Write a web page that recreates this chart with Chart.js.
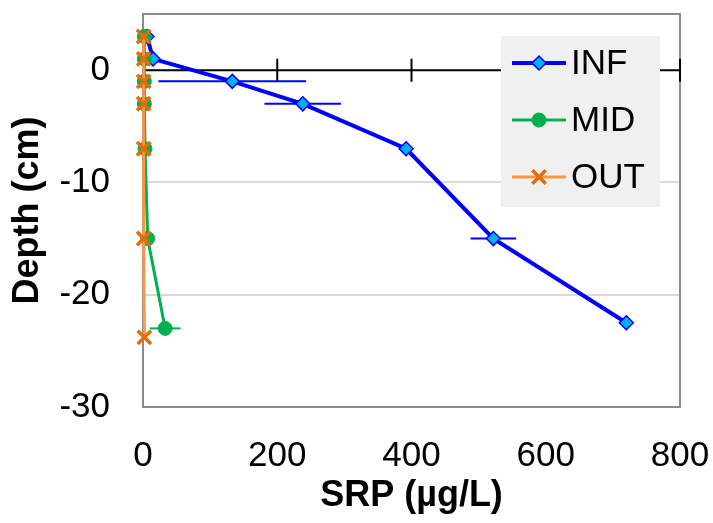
<!DOCTYPE html>
<html>
<head>
<meta charset="utf-8">
<script src="https://cdn.jsdelivr.net/npm/chart.js@4.4.0/dist/chart.umd.min.js"></script>
<style>
html, body { margin: 0; padding: 0; background: #fff; }
#wrap { width: 713px; height: 523px; }
</style>
</head>
<body>
<div id="wrap"><canvas id="chart"></canvas></div>
<script>
// depth (cm) vs SRP (ug/L), one profile per station
var infDepth = [3, 1, -1, -3, -7, -15, -22.5];
var infSRP   = [6, 15, 133, 238, 392, 522, 720];
var infErr   = [0, 0, 110, 57, 0, 34, 0];

var midDepth = [3, 1, -1, -3, -7, -15, -23];
var midSRP   = [2, 2, 2, 2, 3, 7, 33];
var midErr   = [0, 0, 0, 0, 0, 0, 23];

var outDepth = [3, 1, -1, -3, -7, -15, -23.8];
var outSRP   = [1, 1, 1, 1, 1, 1, 2];
var outErr   = [0, 0, 0, 0, 0, 0, 0];

var seriesNames = ['INF', 'MID', 'OUT'];
var xTicks = [0, 200, 400, 600, 800];
var yTicks = [-30, -20, -10, 0];

var FONT = '"Liberation Sans", Arial, sans-serif';

function pts(xs, ys) {
	return xs.map(function(v, i) { return { x: v, y: ys[i] }; });
}

var errs = [infErr, midErr, outErr];

var extras = {
	id: 'extras',
	beforeDatasetsDraw: function(chart) {
		var ctx = chart.ctx, xs = chart.scales.x, ys = chart.scales.y, a = chart.chartArea;
		ctx.save();
		// plot frame
		ctx.strokeStyle = '#8c8c8c';
		ctx.lineWidth = 2;
		ctx.strokeRect(a.left, a.top, a.right - a.left, a.bottom - a.top);
		// axis line at depth 0 with cross tick marks
		var y0 = ys.getPixelForValue(0);
		ctx.strokeStyle = '#000';
		ctx.lineWidth = 2;
		ctx.beginPath();
		ctx.moveTo(a.left, y0);
		ctx.lineTo(a.right, y0);
		xTicks.forEach(function(v) {
			if (v === 0) return;
			var px = xs.getPixelForValue(v);
			ctx.moveTo(px, y0 - 11.5);
			ctx.lineTo(px, y0 + 11.5);
		});
		ctx.stroke();
		// horizontal error bars
		chart.data.datasets.forEach(function(ds, i) {
			ctx.strokeStyle = ds.borderColor;
			ctx.lineWidth = 2;
			ds.data.forEach(function(p, j) {
				var e = errs[i][j];
				if (!e) return;
				var py = ys.getPixelForValue(p.y);
				ctx.beginPath();
				ctx.moveTo(xs.getPixelForValue(p.x - e), py);
				ctx.lineTo(xs.getPixelForValue(p.x + e), py);
				ctx.stroke();
			});
		});
		ctx.restore();
	},
	afterDatasetsDraw: function(chart) {
		// legend box inside the plot, line + marker like the original
		var ctx = chart.ctx, a = chart.chartArea;
		var lx = a.right - 179, ly = a.top + 22;
		ctx.save();
		ctx.fillStyle = '#f0f0f0';
		ctx.fillRect(lx, ly, 159, 171);
		chart.data.datasets.forEach(function(ds, i) {
			var yy = ly + 27 + i * 57;
			ctx.strokeStyle = ds.borderColor;
			ctx.lineWidth = ds.borderWidth;
			ctx.beginPath();
			ctx.moveTo(lx + 11, yy);
			ctx.lineTo(lx + 65, yy);
			ctx.stroke();
			ctx.fillStyle = ds.pointBackgroundColor;
			ctx.strokeStyle = ds.pointBorderColor;
			ctx.lineWidth = ds.pointBorderWidth;
			Chart.helpers.drawPoint(ctx, {
				pointStyle: ds.pointStyle,
				radius: ds.pointRadius,
				borderWidth: ds.pointBorderWidth,
				rotation: 0
			}, lx + 38, yy);
			ctx.fillStyle = '#000';
			ctx.font = '35px ' + FONT;
			ctx.textBaseline = 'middle';
			ctx.textAlign = 'left';
			ctx.fillText(ds.label, lx + 70, yy + 1);
		});
		ctx.restore();
	}
};

new Chart(document.getElementById('chart'), {
	type: 'scatter',
	data: {
		datasets: [{
			label: seriesNames[0],
			data: pts(infSRP, infDepth),
			showLine: true,
			borderColor: '#0000ff',
			borderWidth: 4,
			pointStyle: 'rectRot',
			pointRadius: 7,
			pointBackgroundColor: '#00b0f0',
			pointBorderColor: '#0000ff',
			pointBorderWidth: 1.5,
			order: 2,
			clip: false
		}, {
			label: seriesNames[1],
			data: pts(midSRP, midDepth),
			showLine: true,
			borderColor: '#00b050',
			borderWidth: 3,
			pointStyle: 'circle',
			pointRadius: 7,
			pointBackgroundColor: '#00b050',
			pointBorderColor: '#00b050',
			pointBorderWidth: 1,
			order: 1,
			clip: false
		}, {
			label: seriesNames[2],
			data: pts(outSRP, outDepth),
			showLine: true,
			borderColor: '#f79646',
			borderWidth: 3,
			pointStyle: 'crossRot',
			pointRadius: 9.5,
			pointBackgroundColor: '#e46c0a',
			pointBorderColor: '#e46c0a',
			pointBorderWidth: 3.5,
			order: 0,
			clip: false
		}]
	},
	options: {
		responsive: true,
		maintainAspectRatio: false,
		animation: false,
		layout: { padding: { top: 14, right: 33, left: 0, bottom: 0 } },
		plugins: { legend: { display: false }, tooltip: { enabled: false } },
		scales: {
			x: {
				type: 'linear',
				min: 0,
				max: 800,
				afterBuildTicks: function(s) { s.ticks = xTicks.map(function(v) { return { value: v }; }); },
				afterFit: function(s) { s.height = 116; s.paddingLeft = 0; s.paddingRight = 0; },
				grid: { display: false, drawTicks: false },
				border: { display: false },
				ticks: { padding: 28, color: '#000', font: { family: FONT, size: 35 }, maxRotation: 0, autoSkip: false },
				title: { display: true, text: 'SRP (µg/L)', color: '#000', font: { family: FONT, size: 36, weight: 'bold' }, padding: { top: 0, bottom: 5 } }
			},
			y: {
				type: 'linear',
				min: -30,
				max: 5,
				afterBuildTicks: function(s) { s.ticks = yTicks.map(function(v) { return { value: v }; }); },
				afterFit: function(s) { s.width = 143; s.paddingTop = 0; s.paddingBottom = 0; },
				grid: {
					color: function(c) { return (c.tick.value === 0 || c.tick.value === -30) ? 'rgba(0,0,0,0)' : '#d9d9d9'; },
					lineWidth: 2,
					drawTicks: false
				},
				border: { display: false },
				ticks: { padding: 33, color: '#000', font: { family: FONT, size: 35 } },
				title: { display: true, text: 'Depth (cm)', color: '#000', font: { family: FONT, size: 36, weight: 'bold' }, padding: { top: 6, bottom: 0 } }
			}
		}
	},
	plugins: [extras]
});
</script>
</body>
</html>
